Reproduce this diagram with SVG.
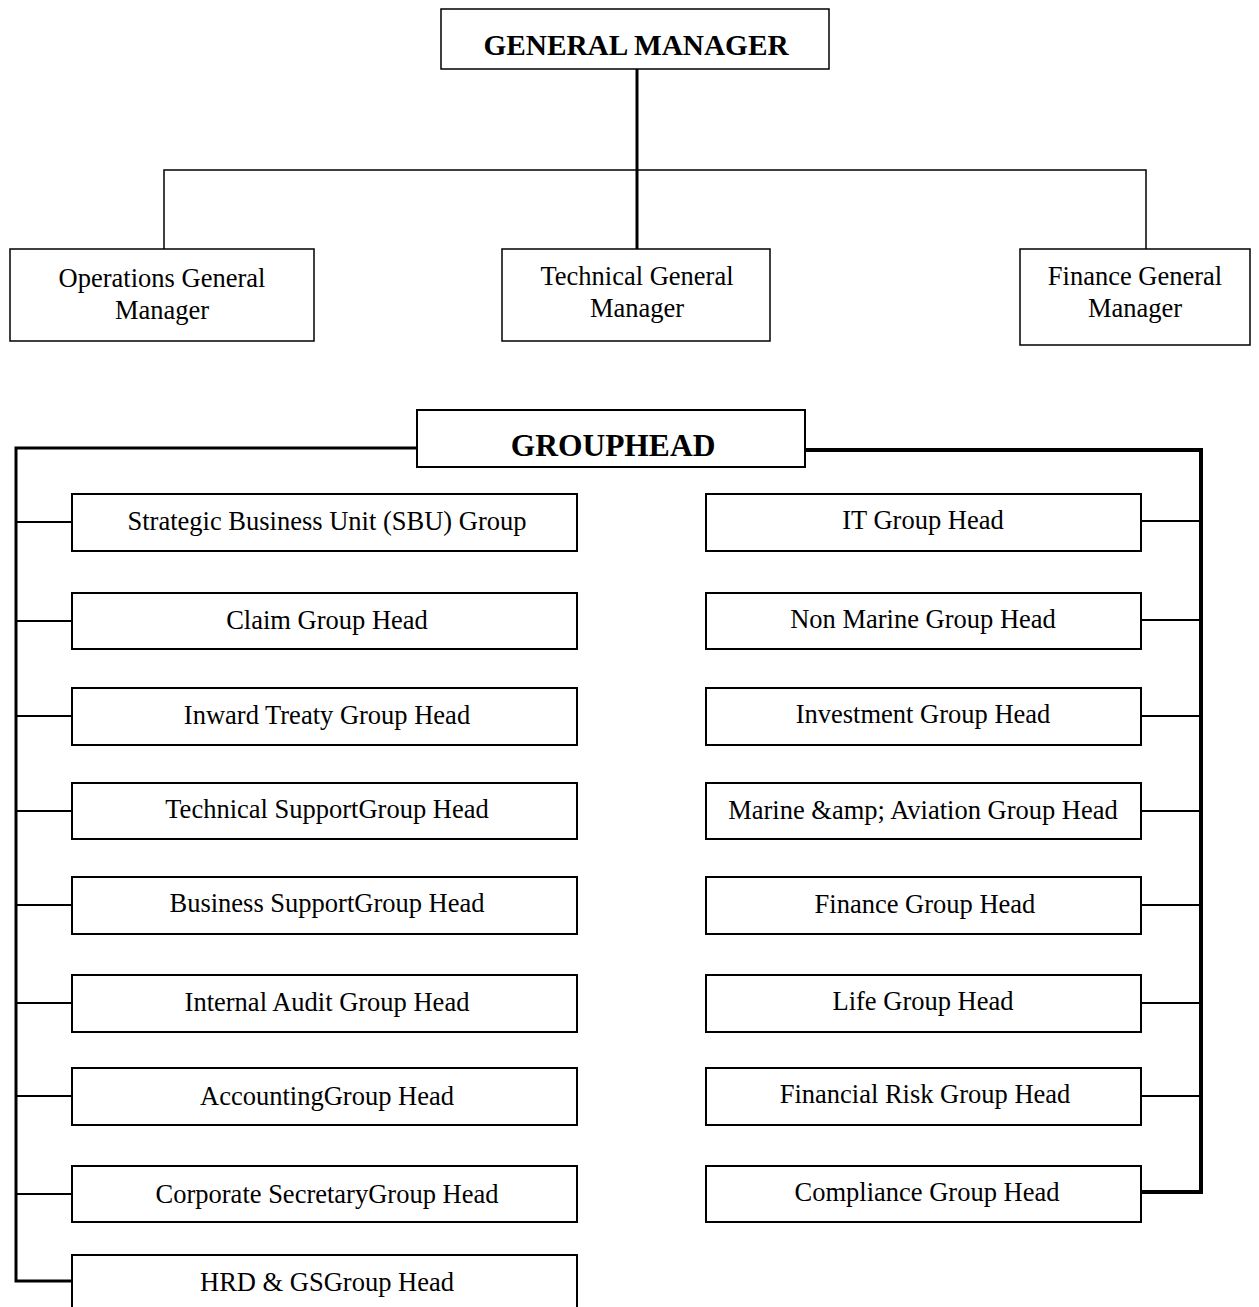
<svg xmlns="http://www.w3.org/2000/svg" width="1259" height="1307" viewBox="0 0 1259 1307">
<style>
.box{fill:#fff;stroke:#000;stroke-width:1.5}
.rb{fill:#fff;stroke:#000;stroke-width:2}
.t{font-family:"Liberation Serif","Times New Roman",serif;font-size:26.5px;fill:#000;text-anchor:middle}
.tb{font-family:"Liberation Serif","Times New Roman",serif;font-weight:bold;fill:#000;text-anchor:middle}
.thin{fill:none;stroke:#000;stroke-width:1.5}
.mid{fill:none;stroke:#000;stroke-width:2}
.thick{fill:none;stroke:#000;stroke-width:3}
.thicker{fill:none;stroke:#000;stroke-width:4}
</style>
<rect width="1259" height="1307" fill="#fff"/>
<g id="connectors">
<path class="thick" d="M637 69V249"/>
<path class="thin" d="M164 249V170H1146V249"/>
<path class="thick" d="M417 448H16V1281H72"/>
<path class="thicker" d="M805 450H1201V1192H1141"/>
<path class="mid" d="M16 522H72M16 621H72M16 716H72M16 811H72M16 905H72M16 1003H72M16 1096H72M16 1194H72"/>
<path class="mid" d="M1141 521H1201M1141 620H1201M1141 716H1201M1141 811H1201M1141 905H1201M1141 1003H1201M1141 1096H1201"/>
</g>
<g id="gm"><rect class="box" x="441" y="9" width="388" height="60"/><text class="tb" x="636" y="55" font-size="29.3">GENERAL MANAGER</text></g>
<g id="ogm"><rect class="box" x="10" y="249" width="304" height="92"/><text class="t" x="162" y="287">Operations General</text><text class="t" x="162" y="319">Manager</text></g>
<g id="tgm"><rect class="box" x="502" y="249" width="268" height="92"/><text class="t" x="637" y="285">Technical General</text><text class="t" x="637" y="317">Manager</text></g>
<g id="fgm"><rect class="box" x="1020" y="249" width="230" height="96"/><text class="t" x="1135" y="285">Finance General</text><text class="t" x="1135" y="317">Manager</text></g>
<g id="gh"><rect class="rb" x="417" y="410" width="388" height="57"/><text class="tb" x="613" y="456" font-size="31.5">GROUPHEAD</text></g>
<g id="l1"><rect class="rb" x="72" y="494" width="505" height="57"/><text class="t" x="327" y="530">Strategic Business Unit (SBU) Group</text></g>
<g id="l2"><rect class="rb" x="72" y="593" width="505" height="56"/><text class="t" x="327" y="629">Claim Group Head</text></g>
<g id="l3"><rect class="rb" x="72" y="688" width="505" height="57"/><text class="t" x="327" y="724">Inward Treaty Group Head</text></g>
<g id="l4"><rect class="rb" x="72" y="783" width="505" height="56"/><text class="t" x="327" y="818">Technical SupportGroup Head</text></g>
<g id="l5"><rect class="rb" x="72" y="877" width="505" height="57"/><text class="t" x="327" y="912">Business SupportGroup Head</text></g>
<g id="l6"><rect class="rb" x="72" y="975" width="505" height="57"/><text class="t" x="327" y="1011">Internal Audit Group Head</text></g>
<g id="l7"><rect class="rb" x="72" y="1068" width="505" height="57"/><text class="t" x="327" y="1105">AccountingGroup Head</text></g>
<g id="l8"><rect class="rb" x="72" y="1166" width="505" height="56"/><text class="t" x="327" y="1203">Corporate SecretaryGroup Head</text></g>
<g id="l9"><rect class="rb" x="72" y="1255" width="505" height="60"/><text class="t" x="327" y="1291">HRD &amp; GSGroup Head</text></g>
<g id="r1"><rect class="rb" x="706" y="494" width="435" height="57"/><text class="t" x="923" y="529">IT Group Head</text></g>
<g id="r2"><rect class="rb" x="706" y="593" width="435" height="56"/><text class="t" x="923" y="628">Non Marine Group Head</text></g>
<g id="r3"><rect class="rb" x="706" y="688" width="435" height="57"/><text class="t" x="923" y="723">Investment Group Head</text></g>
<g id="r4"><rect class="rb" x="706" y="783" width="435" height="56"/><text class="t" x="923" y="819">Marine &amp;amp; Aviation Group Head</text></g>
<g id="r5"><rect class="rb" x="706" y="877" width="435" height="57"/><text class="t" x="925" y="913">Finance Group Head</text></g>
<g id="r6"><rect class="rb" x="706" y="975" width="435" height="57"/><text class="t" x="923" y="1010">Life Group Head</text></g>
<g id="r7"><rect class="rb" x="706" y="1068" width="435" height="57"/><text class="t" x="925" y="1103">Financial Risk Group Head</text></g>
<g id="r8"><rect class="rb" x="706" y="1166" width="435" height="56"/><text class="t" x="927" y="1201">Compliance Group Head</text></g>
</svg>
